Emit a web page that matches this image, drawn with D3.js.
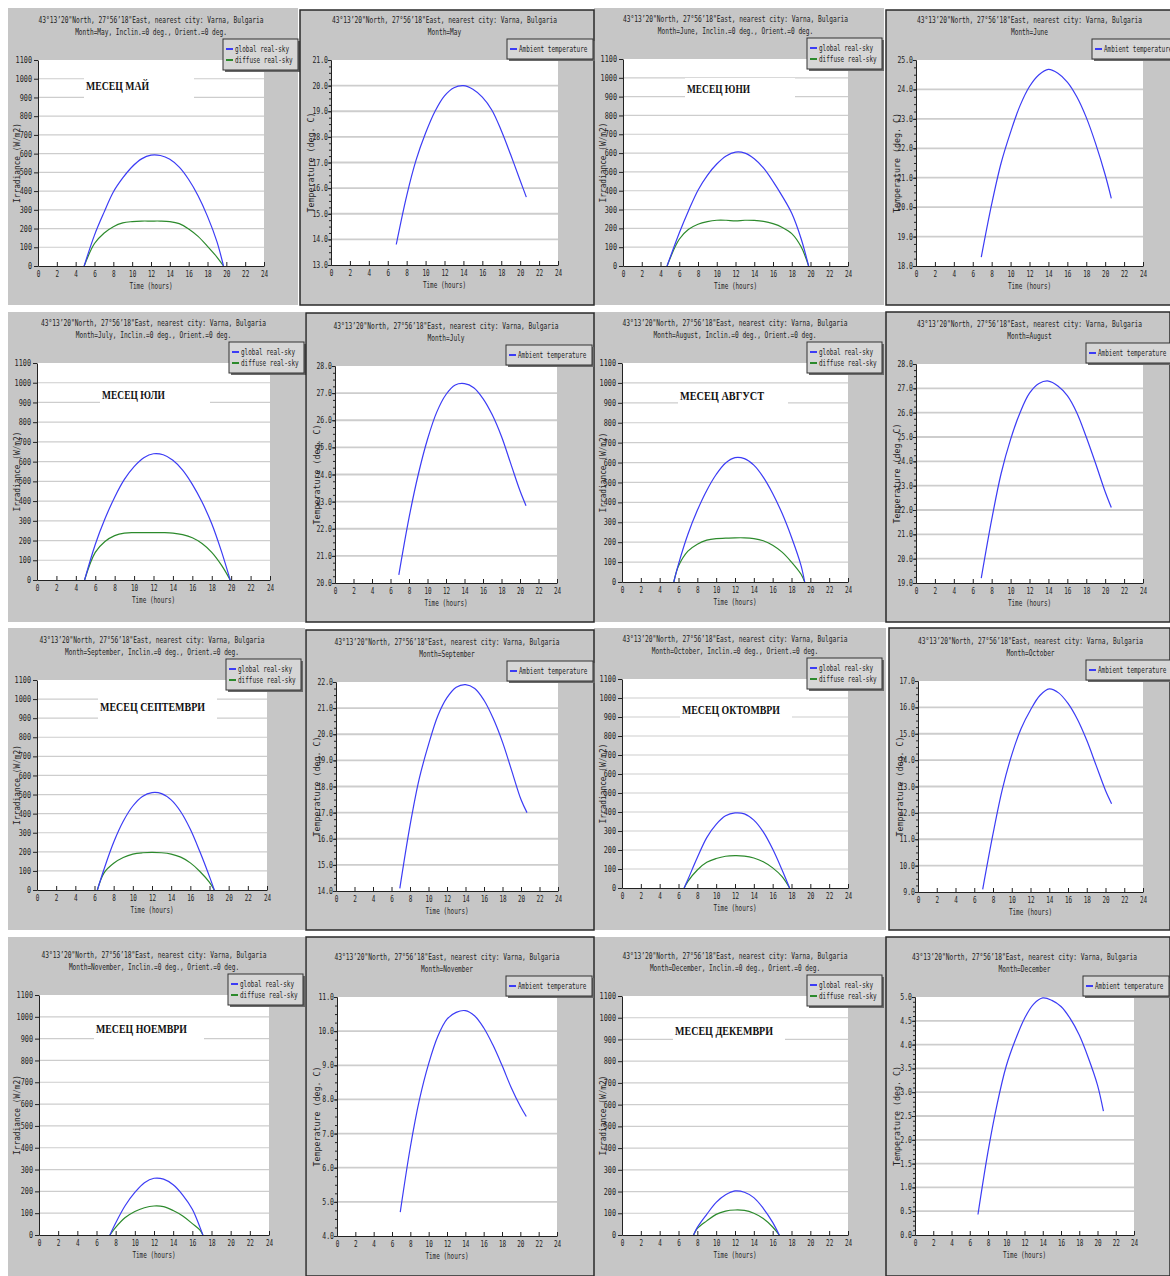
<!DOCTYPE html>
<meta charset="utf-8">
<style>
body { margin: 0; background: #fff; }
text { font-family: "DejaVu Sans Mono", monospace; fill: #222; }
.month { font-family: "Liberation Serif", serif; font-weight: bold; fill: #111; }
</style>
<body>
<svg width="1170" height="1276"></svg>
<script src="https://d3js.org/d3.v7.min.js"></script>
<script>
// ---- data ----
var months = ["May", "June", "July", "August", "September", "October", "November", "December"];
var monthLabels = ["МЕСЕЦ МАЙ", "МЕСЕЦ ЮНИ", "МЕСЕЦ ЮЛИ", "МЕСЕЦ АВГУСТ",
                   "МЕСЕЦ СЕПТЕМВРИ", "МЕСЕЦ ОКТОМВРИ", "МЕСЕЦ НОЕМВРИ", "МЕСЕЦ ДЕКЕМВРИ"];

var irrHours = [
  [4.9, 6, 7, 8, 9, 10, 11, 12, 13, 14, 15, 16, 17, 18, 19, 19.7],
  [4.7, 6, 7, 8, 9, 10, 11, 12, 13, 14, 15, 16, 17, 18, 19, 19.8],
  [4.9, 6, 7, 8, 9, 10, 11, 12, 13, 14, 15, 16, 17, 18, 19, 19.9],
  [5.5, 6, 7, 8, 9, 10, 11, 12, 13, 14, 15, 16, 17, 18, 19, 19.4],
  [6.3, 7, 8, 9, 10, 11, 12, 13, 14, 15, 16, 17, 18, 18.5],
  [6.6, 7, 8, 9, 10, 11, 12, 13, 14, 15, 16, 17, 17.8],
  [7.4, 8, 9, 10, 11, 12, 13, 14, 15, 16, 16.8, 17.1],
  [7.6, 8, 9, 10, 11, 12, 13, 14, 15, 16, 16.7]
];
var globalIrr = [
  [0, 165, 285, 395, 470, 530, 572, 592, 590, 570, 528, 462, 375, 265, 130, 0],
  [0, 175, 295, 403, 482, 542, 585, 605, 600, 570, 520, 450, 370, 280, 145, 0],
  [0, 180, 310, 420, 510, 575, 620, 640, 635, 607, 557, 485, 395, 285, 145, 0],
  [0, 90, 240, 360, 460, 540, 598, 625, 620, 587, 527, 445, 345, 225, 85, 0],
  [0, 110, 250, 360, 440, 490, 510, 505, 472, 410, 318, 200, 70, 0],
  [0, 45, 160, 265, 335, 380, 395, 390, 357, 295, 205, 95, 0],
  [0, 55, 135, 195, 240, 260, 256, 230, 183, 118, 35, 0],
  [0, 35, 95, 150, 185, 203, 197, 172, 123, 58, 0]
];
var diffuseIrr = [
  [0, 120, 175, 210, 230, 237, 240, 240, 240, 237, 226, 198, 158, 105, 48, 0],
  [0, 142, 195, 222, 236, 243, 243, 240, 243, 242, 237, 225, 205, 172, 102, 0],
  [0, 140, 195, 225, 238, 240, 240, 240, 240, 238, 230, 214, 185, 140, 75, 0],
  [0, 80, 155, 190, 210, 218, 220, 222, 222, 218, 207, 185, 150, 100, 40, 0],
  [0, 90, 140, 170, 188, 195, 197, 195, 188, 172, 142, 97, 40, 0],
  [0, 35, 95, 135, 155, 167, 170, 168, 158, 138, 106, 60, 0],
  [0, 35, 80, 108, 125, 133, 130, 112, 87, 52, 22, 0],
  [0, 30, 65, 95, 110, 115, 113, 100, 76, 37, 0]
];

var tempHours = [6.9, 8, 9, 10, 11, 12, 13, 14, 15, 16, 17, 18, 19, 20, 20.65];
var tempValues = [
  [13.8, 15.7, 17.1, 18.15, 19.0, 19.6, 19.92, 20.0, 19.86, 19.55, 19.05, 18.25, 17.3, 16.3, 15.65],
  [18.3, 20.1, 21.5, 22.55, 23.45, 24.1, 24.5, 24.68, 24.55, 24.25, 23.75, 23.05, 22.15, 21.1, 20.3],
  [20.3, 22.4, 24.0, 25.3, 26.3, 26.95, 27.3, 27.35, 27.2, 26.8, 26.2, 25.4, 24.4, 23.4, 22.85],
  [19.2, 21.6, 23.5, 24.9, 26.0, 26.8, 27.2, 27.3, 27.1, 26.7, 26.0, 25.0, 23.9, 22.75, 22.1],
  [14.1, 16.5, 18.3, 19.6, 20.7, 21.4, 21.8, 21.9, 21.75, 21.3, 20.6, 19.7, 18.6, 17.5, 17.0],
  [9.1, 11.2, 12.9, 14.2, 15.2, 15.9, 16.45, 16.7, 16.55, 16.15, 15.55, 14.75, 13.8, 12.85, 12.35],
  [4.7, 6.6, 8.0, 9.05, 9.85, 10.35, 10.55, 10.6, 10.45, 10.1, 9.6, 9.0, 8.35, 7.8, 7.5],
  [0.43, 1.75, 2.75, 3.55, 4.1, 4.55, 4.85, 4.98, 4.93, 4.8, 4.55, 4.2, 3.72, 3.15, 2.6]
];
var tempDomains = [[13, 21], [18, 25], [20, 28], [19, 28], [14, 22], [9, 17], [4, 11], [0, 5]];
var tempSteps = [1, 1, 1, 1, 1, 1, 1, 0.5];

var hourTicks = d3.range(0, 25, 2);
var irrTicks = d3.range(0, 1101, 100);

// ---- layout of the screenshot grid ----
var irrFrames = [[8,8,290,297],[594,8,290,297],[8,312,297,310],[594,312,292,310],
                 [8,628,297,302],[594,628,292,302],[8,937,297,339],[594,937,292,339]];
var irrPlots = [[38,60,264,266],[623,59,848,266],[37,363,270,580],[622,363,848,582],
                [37,680,267,890],[622,679,848,888],[39,995,269,1235],[622,996,848,1235]];
var tempFrames = [[300,10,294,295],[886,10,290,295],[306,313,288,309],[886,312,284,310],
                  [306,630,288,300],[889,628,281,302],[306,937,288,339],[886,937,284,339]];
var tempPlots = [[331,60,558,265],[916,60,1143,266],[335,366,557,583],[916,364,1143,583],
                 [336,682,558,891],[918,681,1143,892],[337,997,557,1236],[915,997,1134,1235]];
var labelPos = [[48,30],[64,34],[65,36],[58,37],[63,31],[60,35],[57,38],[53,39]];

var svg = d3.select("svg");
var blue = "#3c3cf5", green = "#2c8a2c", gridc = "#cdcdcd";
var smooth = d3.curveCatmullRom.alpha(0.5);

function fit(sel, cw) {
  sel.attr("textLength", function() { return this.textContent.length * cw; })
     .attr("lengthAdjust", "spacingAndGlyphs");
  return sel;
}

function titles(g, p, line2) {
  var cx = (p[0] + p[2]) / 2;
  fit(g.append("text").attr("x", cx).attr("y", p[1] - 37).attr("text-anchor", "middle")
    .style("font-size", "8.5px").text("43°13’20\"North, 27°56’18\"East, nearest city: Varna, Bulgaria"), 3.75);
  fit(g.append("text").attr("x", cx).attr("y", p[1] - 25).attr("text-anchor", "middle")
    .style("font-size", "8.5px").text(line2), 3.7);
}

function xAxis(g, x, p) {
  var ax = g.append("g").attr("transform", "translate(0," + p[3] + ")")
    .call(d3.axisBottom(x).tickValues(hourTicks).tickSize(-4).tickSizeOuter(0).tickPadding(5));
  ax.selectAll("text").style("font-size", "8px").attr("fill", "#222");
  fit(ax.selectAll("text"), 3.6);
  ax.selectAll("line,path").attr("stroke", "#222");
  fit(g.append("text").attr("x", (p[0] + p[2]) / 2).attr("y", p[3] + 23).attr("text-anchor", "middle")
    .style("font-size", "8.5px").text("Time (hours)"), 3.6);
}

function legend(g, lx, ly, w, items) {
  var h = items.length * 11 + 9;
  g.append("rect").attr("x", lx + 2).attr("y", ly + 2).attr("width", w).attr("height", h).attr("fill", "#6a6a6a");
  g.append("rect").attr("x", lx).attr("y", ly).attr("width", w).attr("height", h)
    .attr("fill", "#d6d6d6").attr("stroke", "#333").attr("stroke-width", 1);
  items.forEach(function(it, k) {
    var yy = ly + 10 + k * 11;
    g.append("line").attr("x1", lx + 3).attr("x2", lx + 10).attr("y1", yy).attr("y2", yy)
      .attr("stroke", it[1]).attr("stroke-width", 2);
    fit(g.append("text").attr("x", lx + 12).attr("y", yy + 3).style("font-size", "8.5px").text(it[0]), 3.6);
  });
}

// ---- irradiance panels ----
months.forEach(function(m, i) {
  var f = irrFrames[i], p = irrPlots[i];
  var g = svg.append("g");
  g.append("rect").attr("x", f[0]).attr("y", f[1]).attr("width", f[2]).attr("height", f[3]).attr("fill", "#c6c6c6");
  g.append("rect").attr("x", p[0]).attr("y", p[1]).attr("width", p[2] - p[0]).attr("height", p[3] - p[1]).attr("fill", "#fff");
  var x = d3.scaleLinear().domain([0, 24]).range([p[0], p[2]]);
  var y = d3.scaleLinear().domain([0, 1100]).range([p[3], p[1]]);

  g.selectAll(".grid").data(irrTicks.slice(1, -1)).enter().append("line")
    .attr("x1", p[0]).attr("x2", p[2]).attr("y1", y).attr("y2", y)
    .attr("stroke", gridc).attr("stroke-width", 1.2);

  // month name on its white block
  var lp = labelPos[i], tl = monthLabels[i].length * 7;
  g.append("rect").attr("x", p[0] + lp[0] - 2).attr("y", p[1] + lp[1] - 15)
    .attr("width", Math.max(110, tl + 14)).attr("height", 24).attr("fill", "#fff");
  g.append("text").attr("class", "month").attr("x", p[0] + lp[0]).attr("y", p[1] + lp[1])
    .style("font-size", "13px").attr("textLength", tl).attr("lengthAdjust", "spacingAndGlyphs")
    .text(monthLabels[i]);

  var pts = irrHours[i];
  var line = d3.line().curve(smooth);
  g.append("path").attr("d", line(pts.map(function(h, k) { return [x(h), y(diffuseIrr[i][k])]; })))
    .attr("fill", "none").attr("stroke", green).attr("stroke-width", 1.2);
  g.append("path").attr("d", line(pts.map(function(h, k) { return [x(h), y(globalIrr[i][k])]; })))
    .attr("fill", "none").attr("stroke", blue).attr("stroke-width", 1.2);

  var ay = g.append("g").attr("transform", "translate(" + p[0] + ",0)")
    .call(d3.axisLeft(y).tickValues(irrTicks).tickSize(4).tickSizeOuter(0).tickPadding(2).tickFormat(d3.format("d")));
  ay.selectAll("text").style("font-size", "8px").attr("fill", "#222");
  fit(ay.selectAll("text"), 4.1);
  ay.selectAll("line,path").attr("stroke", "#222");
  xAxis(g, x, p);

  fit(g.append("text").attr("transform", "translate(" + (f[0] + 12) + "," + (p[1] + p[3]) / 2 + ") rotate(-90)")
    .attr("text-anchor", "middle").style("font-size", "8.5px").text("Irradiance (W/m2)"), 4.7);

  titles(g, p, "Month=" + m + ", Inclin.=0 deg., Orient.=0 deg.");
  legend(g, p[2] - 41, p[1] - 21, 75, [["global real-sky", blue], ["diffuse real-sky", green]]);
});

// ---- ambient temperature panels ----
months.forEach(function(m, i) {
  var f = tempFrames[i], p = tempPlots[i];
  var g = svg.append("g");
  g.append("rect").attr("x", f[0]).attr("y", f[1]).attr("width", f[2]).attr("height", f[3])
    .attr("fill", "#c6c6c6").attr("stroke", "#2a2a2a").attr("stroke-width", 1.5);
  g.append("rect").attr("x", p[0]).attr("y", p[1]).attr("width", p[2] - p[0]).attr("height", p[3] - p[1]).attr("fill", "#fff");
  var dom = tempDomains[i], step = tempSteps[i];
  var x = d3.scaleLinear().domain([0, 24]).range([p[0], p[2]]);
  var y = d3.scaleLinear().domain(dom).range([p[3], p[1]]);
  var major = d3.range(dom[0], dom[1] + step / 2, step);
  var minorStep = step === 1 ? 0.25 : 0.1;
  var minor = d3.range(dom[0], dom[1] + minorStep / 2, minorStep);

  g.selectAll(".grid").data(major.slice(1, -1)).enter().append("line")
    .attr("x1", p[0]).attr("x2", p[2]).attr("y1", y).attr("y2", y)
    .attr("stroke", gridc).attr("stroke-width", 1.8);

  g.append("path")
    .attr("d", d3.line().curve(smooth)(tempHours.map(function(h, k) { return [x(h), y(tempValues[i][k])]; })))
    .attr("fill", "none").attr("stroke", blue).attr("stroke-width", 1.2);

  g.append("g").attr("transform", "translate(" + p[0] + ",0)")
    .call(d3.axisLeft(y).tickValues(minor).tickSize(2).tickSizeOuter(0).tickFormat(""))
    .selectAll("line,path").attr("stroke", "#222");
  var ay = g.append("g").attr("transform", "translate(" + p[0] + ",0)")
    .call(d3.axisLeft(y).tickValues(major).tickSize(3).tickSizeOuter(0).tickPadding(0).tickFormat(d3.format(".1f")));
  ay.selectAll("text").style("font-size", "8px").attr("fill", "#222");
  fit(ay.selectAll("text"), 3.9);
  ay.selectAll("line,path").attr("stroke", "#222");
  xAxis(g, x, p);

  fit(g.append("text").attr("transform", "translate(" + (f[0] + 14) + "," + (p[1] + p[3]) / 2 + ") rotate(-90)")
    .attr("text-anchor", "middle").style("font-size", "8.5px").text("Temperature (deg. C)"), 5);

  titles(g, p, "Month=" + m);
  var right = f[0] + f[2];
  legend(g, Math.min(p[2] - 51, right - 84), p[1] - 21, 86, [["Ambient temperature", blue]]);
});
</script>
